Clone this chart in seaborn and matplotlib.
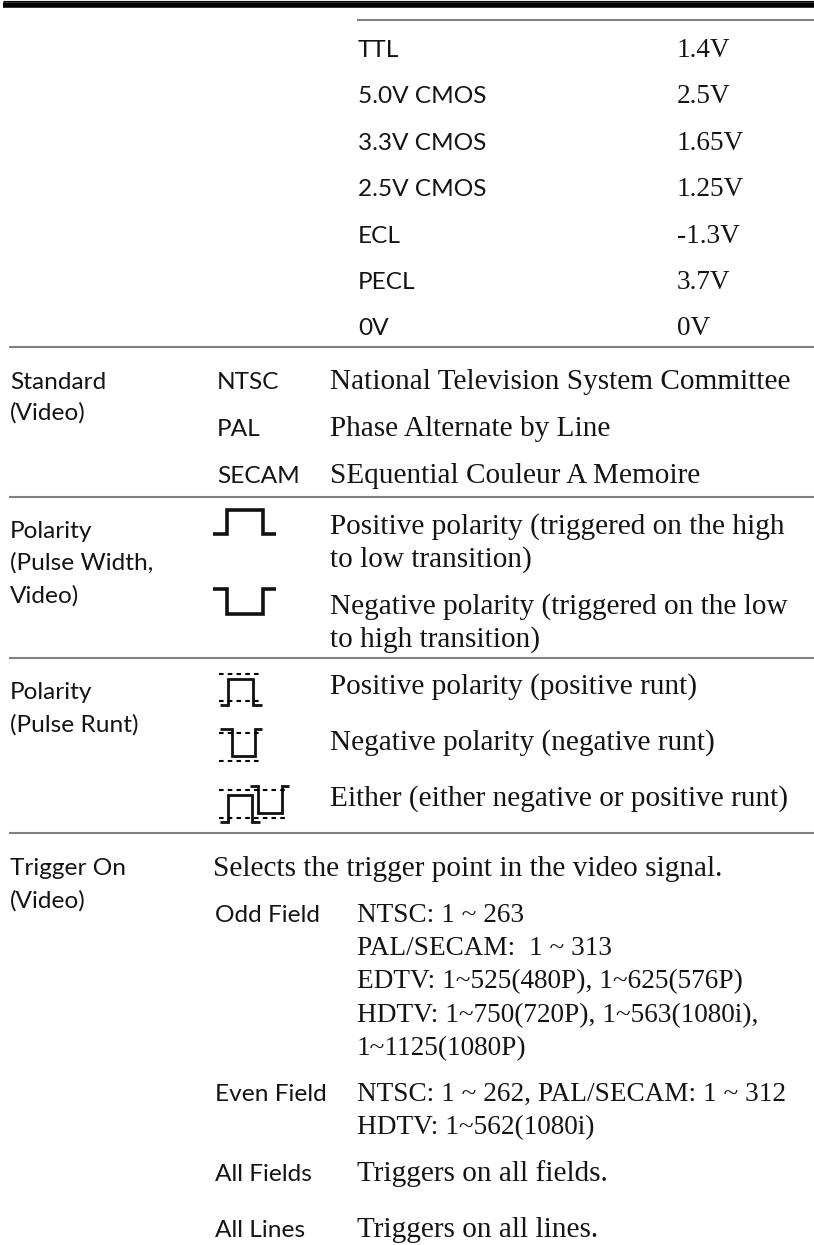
import matplotlib
matplotlib.use("Agg")
import matplotlib.pyplot as plt
import seaborn as sns

sns.set_theme(style="white")

# text of the table, one list per group
volt_names = ["TTL", "5.0V CMOS", "3.3V CMOS", "2.5V CMOS", "ECL", "PECL", "0V"]
volt_values = ["1.4V", "2.5V", "1.65V", "1.25V", "-1.3V", "3.7V", "0V"]
standard_names = ["NTSC", "PAL", "SECAM"]
standard_desc = ["National Television System Committee", "Phase Alternate by Line", "SEquential Couleur A Memoire"]
left_labels = ["Standard", "(Video)", "Polarity", "(Pulse Width,", "Video)", "Polarity", "(Pulse Runt)", "Trigger On", "(Video)"]
polarity_desc = ["Positive polarity (triggered on the high", "to low transition)",
                 "Negative polarity (triggered on the low", "to high transition)",
                 "Positive polarity (positive runt)", "Negative polarity (negative runt)",
                 "Either (either negative or positive runt)"]
field_names = ["Odd Field", "Even Field", "All Fields", "All Lines"]
field_intro = "Selects the trigger point in the video signal."
field_ranges = ["NTSC: 1 ~ 263", "PAL/SECAM:  1 ~ 313", "EDTV: 1~525(480P), 1~625(576P)",
                "HDTV: 1~750(720P), 1~563(1080i),", "1~1125(1080P)",
                "NTSC: 1 ~ 262, PAL/SECAM: 1 ~ 312", "HDTV: 1~562(1080i)"]
field_notes = ["Triggers on all fields.", "Triggers on all lines."]

# text baselines in page pixels
volt_y = [57, 103, 150, 196, 243, 289, 335]
standard_y = [389, 436, 483]
left_y = [389, 420, 538, 570, 603, 699, 732, 875, 908]
polarity_y = [534, 567, 614, 647, 694, 750, 806]
field_name_y = [922, 1101, 1181, 1237]
field_range_y = [922, 955, 988, 1022, 1055, 1101, 1134]
field_note_y = [1181, 1237]
rule_y = [20, 347, 497, 658, 833]
rule_x0 = [357, 9, 9, 9, 9]

# waveform outlines in page pixels
pos_x = [213, 227, 227, 263, 263, 276]
pos_y = [534, 534, 510, 510, 534, 534]
neg_x = [213, 227, 227, 263, 263, 276]
neg_y = [589, 589, 614, 614, 589, 589]
runt_pos_x = [220, 228, 228, 253, 253, 262]
runt_pos_y = [705, 705, 679, 679, 705, 705]
runt_neg_x = [220, 232, 232, 255, 255, 262]
runt_neg_y = [729, 729, 756, 756, 729, 729]
either_a_x = [220, 228, 228, 252, 252, 260]
either_a_y = [822, 822, 795, 795, 822, 822]
either_b_x = [250, 258, 258, 282, 282, 289]
either_b_y = [786, 786, 813, 813, 786, 786]
dash_x0 = [219, 219, 219, 219, 219, 219]
dash_x1 = [262, 262, 262, 262, 289, 289]
dash_y = [674, 701, 733, 761, 790, 818]

serif = "Liberation Serif"
sans = "Lato"
ink = "#141414"

fig = plt.figure(figsize=(8.14, 12.45), dpi=100)
ax = fig.add_axes([0, 0, 1, 1])
ax.set_xlim(0, 814)
ax.set_ylim(1245, 0)
ax.axis("off")

# header bar
ax.hlines(0.6, 3, 814, color="black", lw=0.8)
ax.hlines(5.3, 3, 814, color="black", lw=4.0)

for y, x0 in zip(rule_y, rule_x0):
    ax.hlines(y, x0, 814, color="#808080", lw=1.5)


def body(x, y, s, size=21.1):
    ax.text(x, y, s, family=serif, fontsize=size, color=ink, va="baseline", ha="left")


def label(x, y, s):
    ax.text(x, y, s, family=sans, fontsize=17.6, color=ink, va="baseline", ha="left")


# lines full of digits run wide in this font, so they get a smaller size
for y, name, val in zip(volt_y, volt_names, volt_values):
    label(358, y, name)
    body(677, y, val, size=19.6)

for y, name, desc in zip(standard_y, standard_names, standard_desc):
    label(217, y, name)
    body(330, y, desc)

for y, s in zip(left_y, left_labels):
    label(10, y, s)

for y, s in zip(polarity_y, polarity_desc):
    body(330, y, s)

body(213, 876, field_intro)
for y, s in zip(field_range_y, field_ranges):
    body(357, y, s, size=19.6)
for y, s in zip(field_note_y, field_notes):
    body(357, y, s)

for y, s in zip(field_name_y, field_names):
    label(215, y, s)


def wave(xs, ys, lw):
    sns.lineplot(x=xs, y=ys, sort=False, estimator=None, color="#111111", lw=lw, ax=ax,
                 legend=False, solid_joinstyle="miter", solid_capstyle="butt")


wave(pos_x, pos_y, 2.6)
wave(neg_x, neg_y, 2.6)
wave(runt_pos_x, runt_pos_y, 2.0)
wave(runt_neg_x, runt_neg_y, 2.0)
wave(either_a_x, either_a_y, 2.0)
wave(either_b_x, either_b_y, 2.0)

for x0, x1, y in zip(dash_x0, dash_x1, dash_y):
    ax.hlines(y, x0, x1, color="black", lw=1.5, linestyles=(0, (2.2, 2.0)))

fig.savefig("out.png", dpi=100)
